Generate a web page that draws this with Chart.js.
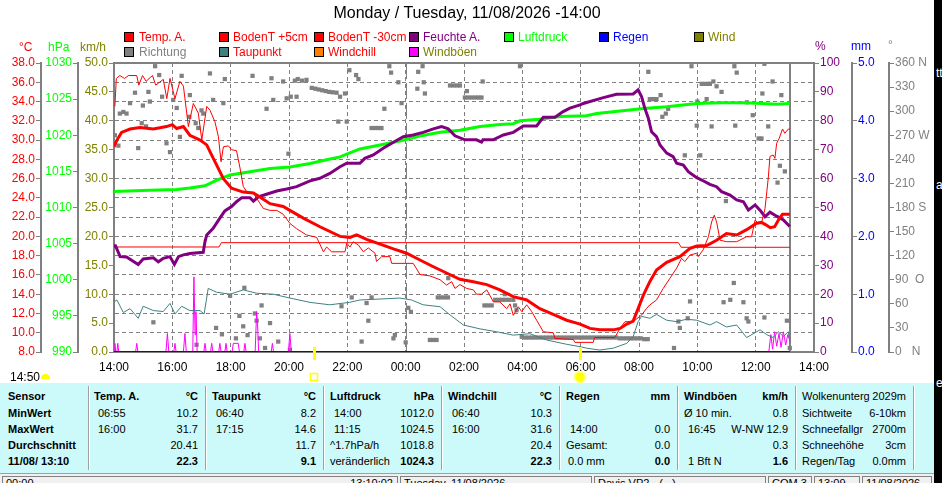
<!DOCTYPE html>
<html>
<head>
<meta charset="utf-8">
<title>Wetterverlauf</title>
<script src="https://cdn.jsdelivr.net/npm/chart.js@4.4.1/dist/chart.umd.min.js"></script>
<style>
  body { margin: 0; width: 942px; height: 483px; overflow: hidden; background: #fff; position: relative;
         font-family: "Liberation Sans", Arial, sans-serif; }
  .a { position: absolute; white-space: nowrap; line-height: 14px; font-size: 12px; }
  .sq { position: absolute; width: 8px; height: 8px; border: 1px solid #000; }
  #c { position: absolute; left: 0; top: 0; }
  #title { position: absolute; left: 0; top: 4px; width: 934px; text-align: center;
           font: 16px "Liberation Sans", Arial, sans-serif; line-height: 18px; }
  #tab { position: absolute; left: 0; top: 383px; width: 934px; height: 90px; background: #ccfafa;
         font: 11px "Liberation Sans", Arial, sans-serif; }
  #tab div { position: absolute; white-space: nowrap; line-height: 14px; }
  #tab .b { font-weight: bold; }
  #tab .sep { top: 3px; height: 84px; width: 0; border-left: 1px solid #a0a0a0; border-right: 1px solid #fff; }
  #status { position: absolute; left: 0; top: 473px; width: 934px; height: 10px; background: #f0f0f0;
            border-top: 1px solid #a0a0a0; font: 11px "Liberation Sans", Arial, sans-serif; }
  #status div { position: absolute; top: 2px; height: 12px; border: 1px solid #808080; border-bottom: none;
                white-space: nowrap; line-height: 12px; padding: 0 3px; box-sizing: border-box; }
  #strip { position: absolute; left: 934px; top: 0; width: 8px; height: 483px; background: #000; overflow: hidden; }
  #strip div { position: absolute; left: 2px; color: #fff; font: 12px "Liberation Sans", Arial, sans-serif; }
</style>
</head>
<body>
<canvas id="c" width="934" height="383"></canvas>

<div id="title">Monday / Tuesday, 11/08/2026 -14:00</div>

<div class="sq" style="left:124px;top:32px;background:#ff0000"></div><div class="a" style="left:139px;top:30px;color:#ff0000">Temp. A.</div>
<div class="sq" style="left:219px;top:32px;background:#ff0000"></div><div class="a" style="left:233px;top:30px;color:#ff0000">BodenT +5cm</div>
<div class="sq" style="left:314px;top:32px;background:#ff0000"></div><div class="a" style="left:328px;top:30px;color:#ff0000">BodenT -30cm</div>
<div class="sq" style="left:409px;top:32px;background:#800080"></div><div class="a" style="left:423px;top:30px;color:#800080">Feuchte A.</div>
<div class="sq" style="left:504px;top:32px;background:#00ff00"></div><div class="a" style="left:518px;top:30px;color:#00ff00">Luftdruck</div>
<div class="sq" style="left:599px;top:32px;background:#0000ff"></div><div class="a" style="left:613px;top:30px;color:#0000ff">Regen</div>
<div class="sq" style="left:694px;top:32px;background:#808000"></div><div class="a" style="left:708px;top:30px;color:#808000">Wind</div>
<div class="sq" style="left:124px;top:47px;background:#808080"></div><div class="a" style="left:139px;top:45px;color:#808080">Richtung</div>
<div class="sq" style="left:219px;top:47px;background:#408080"></div><div class="a" style="left:233px;top:45px;color:#ff0000">Taupunkt</div>
<div class="sq" style="left:314px;top:47px;background:#ff8000"></div><div class="a" style="left:328px;top:45px;color:#ff0000">Windchill</div>
<div class="sq" style="left:409px;top:47px;background:#ff00ff"></div><div class="a" style="left:423px;top:45px;color:#808000">Windböen</div>

<div class="a" style="left:19px;top:40px;color:#ff0000">°C</div>
<div class="a" style="left:48px;top:40px;color:#00ff00">hPa</div>
<div class="a" style="left:80px;top:40px;color:#808000">km/h</div>
<div class="a" style="left:815px;top:39px;color:#800080">%</div>
<div class="a" style="left:851px;top:39px;color:#0000ff">mm</div>
<div class="a" style="left:888px;top:38px;color:#808080">°</div>

<div class="a" style="left:10px;top:370px;color:#000">14:50</div>
<div style="position:absolute;left:41px;top:374px;width:9px;height:5px;background:#ffff00;border-radius:5px 5px 1px 1px"></div>

<div id="tab"></div>
<div id="status">
  <div style="left:2px;width:396px">00:00<span style="position:absolute;right:4px">13:10:02</span></div>
  <div style="left:400px;width:192px">Tuesday, 11/08/2026</div>
  <div style="left:594px;width:172px">Davis VP2 - (...)</div>
  <div style="left:768px;width:44px">COM 3</div>
  <div style="left:814px;width:46px">13:09</div>
  <div style="left:862px;width:70px">11/08/2026</div>
</div>
<div id="strip"><div style="top:66px">tt.</div><div style="top:178px">a</div><div style="top:376px">e</div></div>

<script>
// hours after 14:00 (0 = 14:00 Monday, 24 = 14:00 Tuesday)
const timeLabels = ['14:00', '16:00', '18:00', '20:00', '22:00', '00:00', '02:00', '04:00', '06:00', '08:00', '10:00', '12:00', '14:00'];
const dirLabels = ['0   N', '30', '60', '90  O', '120', '150', '180 S', '210', '240', '270 W', '300', '330', '360 N'];
const midnight = 10;
const nowHour = 23.17;
const sunset = 6.86;
const sunrise = 15.98;

const tempA = [[0, 29.3], [0.1, 30.0], [0.26, 30.8], [0.55, 31.15], [0.89, 31.3], [1.35, 31.15], [1.8, 31.4], [2.0, 31.6],
  [2.15, 31.2], [2.38, 31.4], [2.6, 30.5], [2.95, 30.0], [3.18, 29.5], [3.29, 28.8], [3.52, 27.4], [3.75, 26.0], [4.03, 25.0],
  [4.43, 24.6], [4.78, 24.5], [5.0, 24.1], [5.35, 23.4], [5.8, 23.1], [6.03, 22.7], [6.49, 21.9], [7.06, 21.0], [7.75, 20.0],
  [8.09, 19.9], [8.32, 20.15], [8.66, 19.7], [9.12, 19.2], [9.58, 18.7], [10.03, 18.25], [10.49, 17.55], [10.95, 16.85],
  [11.4, 16.2], [11.86, 15.55], [12.32, 15.3], [12.78, 15.0], [13.23, 14.45], [13.69, 13.75], [14.15, 13.4], [14.6, 12.5],
  [15.06, 11.9], [15.52, 11.3], [15.98, 10.9], [16.32, 10.45], [16.66, 10.3], [17.12, 10.3], [17.35, 10.45], [17.58, 10.9],
  [17.8, 11.2], [17.97, 12.5], [18.15, 13.9], [18.37, 15.3], [18.6, 16.5], [18.95, 17.3], [19.4, 17.9], [19.75, 18.75],
  [19.98, 19.0], [20.32, 19.05], [20.66, 19.6], [21.0, 20.3], [21.35, 20.15], [21.69, 20.7], [22.03, 21.36], [22.2, 21.45],
  [22.35, 21.2], [22.5, 20.9], [22.65, 21.0], [22.8, 21.8], [22.92, 22.3], [23.17, 22.3]];

const bodenT5 = [[0.03, 33.5], [0.08, 36.4], [0.2, 36.7], [0.36, 36.4], [0.5, 36.7], [0.78, 36.7], [0.85, 35.7], [0.98, 36.7],
  [1.1, 36.1], [1.32, 36.7], [1.43, 35.7], [1.69, 36.3], [1.81, 34.3], [1.92, 36.4], [2.09, 34.3], [2.26, 36.1], [2.38, 35.6],
  [2.55, 31.4], [2.72, 33.8], [2.89, 32.8], [3.01, 30.0], [3.18, 33.5], [3.29, 33.1], [3.46, 31.9], [3.58, 30.35], [3.67, 27.75],
  [3.75, 29.3], [3.92, 29.4], [4.03, 29.0], [4.2, 28.9], [4.32, 27.1], [4.43, 25.2], [4.55, 24.65], [4.78, 24.5], [4.89, 23.95],
  [5.12, 22.9], [5.35, 22.7], [5.58, 22.7], [5.8, 22.3], [6.03, 21.35], [6.26, 20.8], [6.6, 20.15], [6.95, 19.9], [7.18, 18.4],
  [7.29, 18.9], [7.46, 18.4], [7.92, 18.4], [7.98, 19.3], [8.09, 18.9], [8.2, 19.45], [8.38, 19.1], [8.55, 18.4], [8.72, 18.8],
  [8.95, 18.25], [9.0, 17.4], [9.18, 17.9], [9.46, 17.9], [9.52, 17.2], [10.26, 17.2], [10.49, 16.05], [10.83, 15.9],
  [11.18, 15.5], [11.4, 14.95], [11.58, 15.3], [11.69, 14.6], [11.86, 15.0], [12.09, 14.6], [12.32, 14.45], [12.43, 14.0],
  [12.6, 14.0], [12.78, 14.45], [13.01, 13.2], [13.23, 13.2], [13.46, 12.5], [13.58, 13.0], [13.69, 11.8], [13.86, 12.7],
  [13.98, 12.2], [14.15, 12.9], [14.32, 12.2], [14.49, 11.3], [14.72, 10.1], [15.06, 10.0], [15.12, 9.4], [15.75, 9.3],
  [15.8, 9.0], [16.43, 9.0], [16.48, 9.5], [17.17, 9.5], [17.35, 10.46], [17.52, 11.15], [17.8, 11.15], [18.09, 11.84],
  [18.26, 12.53], [18.37, 12.88], [18.6, 13.4], [18.83, 14.6], [19.06, 15.65], [19.29, 16.7], [19.46, 17.73], [19.57, 17.38],
  [19.75, 18.07], [19.98, 18.25], [20.03, 17.9], [20.2, 18.6], [20.38, 19.97], [20.49, 21.5], [20.58, 22.2], [20.66, 21.5],
  [20.78, 19.6], [21.0, 19.45], [21.35, 19.45], [21.69, 19.97], [21.86, 19.97], [21.98, 21.7], [22.09, 21.36], [22.2, 21.36],
  [22.32, 22.9], [22.37, 24.3], [22.43, 26.0], [22.49, 28.3], [22.6, 28.45], [22.66, 28.1], [22.72, 29.67], [22.81, 30.2],
  [22.92, 31.15], [23.0, 30.7], [23.12, 31.15], [23.17, 31.15]];

const bodenT30 = [[0, 18.9], [3.6, 18.9], [3.68, 19.35], [19.35, 19.35], [19.45, 18.87], [23.17, 18.87]];

const feuchte = [[0, 36.8], [0.05, 36.8], [0.21, 33.0], [0.43, 32.9], [0.83, 30.3], [1.0, 32.2], [1.35, 32.6], [1.52, 31.2],
  [1.69, 32.4], [1.92, 33.0], [2.07, 30.3], [2.21, 33.0], [2.38, 33.6], [2.6, 34.1], [3.06, 34.5], [3.12, 38.2], [3.18, 40.5],
  [3.4, 42.8], [3.63, 46.3], [3.8, 48.8], [4.03, 50.3], [4.2, 52.0], [4.38, 53.4], [4.66, 53.4], [4.78, 52.2], [4.95, 53.7],
  [5.23, 54.6], [5.58, 55.7], [5.92, 56.4], [6.26, 57.2], [6.72, 59.2], [7.06, 60.1], [7.4, 61.8], [7.75, 64.1], [7.98, 65.3],
  [8.43, 65.3], [8.6, 67.0], [8.89, 68.2], [9.23, 70.5], [9.58, 72.6], [9.92, 74.5], [10.26, 75.1], [10.6, 76.0], [10.95, 77.2],
  [11.23, 78.0], [11.46, 77.2], [11.69, 74.8], [12.03, 73.4], [12.43, 73.4], [12.6, 72.6], [12.65, 73.4], [13.0, 73.4],
  [13.35, 75.1], [13.69, 76.0], [14.03, 78.2], [14.49, 78.2], [14.72, 81.2], [15.12, 81.2], [15.4, 83.2], [15.63, 84.4],
  [15.98, 85.5], [16.09, 86.0], [16.78, 88.0], [17.23, 89.2], [17.8, 89.3], [17.97, 90.7], [18.09, 88.3], [18.2, 84.3],
  [18.32, 80.9], [18.43, 76.2], [18.6, 74.5], [18.72, 71.6], [18.95, 68.8], [19.17, 67.6], [19.29, 65.3], [19.52, 64.7],
  [19.69, 62.4], [19.98, 60.3], [20.15, 59.5], [20.43, 58.0], [20.66, 57.2], [20.83, 55.5], [21.12, 54.3], [21.35, 52.6],
  [21.58, 52.0], [21.75, 49.1], [21.98, 50.9], [22.15, 49.1], [22.32, 46.8], [22.49, 48.4], [22.72, 47.0], [22.95, 45.7],
  [23.17, 43.4]];

const luftdruck = [[0, 1012.2], [1.23, 1012.4], [2.15, 1012.5], [2.6, 1012.7], [3.12, 1013.0], [3.52, 1013.8], [3.98, 1014.5],
  [4.66, 1014.95], [5.35, 1015.4], [6.03, 1015.6], [6.72, 1016.1], [7.29, 1016.6], [7.75, 1017.0], [8.43, 1018.1],
  [9.12, 1018.65], [9.8, 1019.2], [10.49, 1019.9], [11.18, 1020.4], [11.86, 1020.7], [12.55, 1021.2], [13.23, 1021.5],
  [13.69, 1021.6], [13.92, 1022.0], [14.6, 1022.2], [15.29, 1022.6], [16.2, 1022.7], [16.55, 1023.0], [17.35, 1023.35],
  [18.15, 1023.7], [18.95, 1023.95], [19.98, 1024.4], [20.78, 1024.5], [21.58, 1024.5], [22.26, 1024.4], [22.72, 1024.3],
  [23.17, 1024.4]];

const taupunkt = [[0, 13.2], [0.1, 13.4], [0.32, 12.1], [0.55, 12.5], [0.83, 11.5], [1.0, 12.75], [1.35, 12.3], [1.69, 12.2],
  [1.92, 13.05], [2.09, 11.95], [2.32, 12.75], [2.6, 12.3], [2.95, 12.3], [3.09, 11.95], [3.23, 14.6], [3.52, 14.2],
  [3.98, 14.0], [4.43, 14.45], [4.89, 14.1], [5.46, 14.0], [6.03, 13.6], [6.72, 13.15], [7.4, 12.9], [8.07, 13.15],
  [8.43, 13.4], [9.12, 13.5], [9.8, 13.6], [10.2, 13.4], [10.6, 12.9], [11.18, 12.7], [11.52, 11.85], [11.98, 10.8],
  [12.55, 10.4], [13.12, 10.1], [13.69, 9.75], [14.26, 9.9], [14.83, 9.25], [15.52, 8.8], [15.98, 8.55], [16.2, 8.4],
  [16.66, 8.2], [17.12, 8.4], [17.58, 8.9], [17.8, 9.6], [17.97, 11.15], [18.09, 11.7], [18.37, 11.5], [18.6, 11.9],
  [18.95, 11.3], [19.29, 11.15], [19.63, 11.4], [19.98, 11.3], [20.43, 10.8], [20.66, 11.15], [21.0, 10.6], [21.35, 10.8],
  [21.69, 9.5], [22.15, 10.3], [22.38, 9.8], [22.6, 9.5], [22.78, 10.1], [22.95, 9.6], [23.12, 10.1], [23.17, 9.1]];

const windboeen = [[0, 0], [0.03, 1.5], [0.06, 0], [0.1, 0], [0.13, 1.5], [0.16, 0], [0.74, 0], [0.78, 1.5], [0.82, 0],
  [1.78, 0], [1.83, 3.2], [1.88, 0], [2.05, 0], [2.09, 1.5], [2.13, 0], [2.38, 0], [2.43, 3.2], [2.48, 0], [2.7, 0],
  [2.74, 13.0], [2.78, 3.0], [2.81, 7.0], [2.85, 0], [3.08, 0], [3.12, 1.5], [3.16, 0], [3.31, 0], [3.35, 1.5], [3.39, 0],
  [3.59, 0], [3.63, 1.5], [3.67, 0], [3.8, 0], [3.84, 1.5], [3.88, 0], [4.05, 0], [4.09, 1.5], [4.26, 1.5], [4.3, 0],
  [4.45, 0], [4.49, 1.5], [4.53, 0], [4.84, 0], [4.89, 7.0], [4.92, 5.0], [4.96, 0], [5.39, 0], [5.43, 1.5], [5.47, 0],
  [5.98, 0], [6.03, 3.2], [6.08, 0], [22.45, 0], [22.52, 3.0], [22.58, 0.5], [22.65, 3.5], [22.72, 1.0], [22.8, 3.2],
  [22.87, 0.8], [22.95, 3.5], [23.03, 1.2], [23.1, 3.0], [23.17, 2.0]];

const regen = [[0, 0], [23.17, 0]];

const richtung = [[0.03, 270], [0.15, 257], [0.2, 297], [0.32, 299], [0.43, 297], [0.55, 310], [0.72, 323], [0.83, 254],
  [0.95, 285], [0.99, 307], [1.1, 281], [1.18, 324], [1.23, 312], [1.35, 37], [1.41, 356], [1.55, 345], [1.65, 318],
  [1.8, 260], [1.92, 249], [2.03, 314], [2.15, 304], [2.26, 268], [2.32, 344], [2.58, 293], [2.6, 320], [2.8, 285],
  [2.83, 9], [2.89, 279], [3.0, 301], [3.06, 297], [3.29, 347], [3.4, 314], [3.5, 30], [3.7, 22], [3.75, 310], [3.8, 340],
  [3.98, 70], [4.18, 17], [4.3, 45], [4.43, 32], [4.47, 80], [4.58, 21], [4.75, 344], [4.83, 48], [4.89, 39], [5.0, 17],
  [5.06, 58], [5.18, 5], [5.23, 303], [5.35, 36], [5.4, 341], [5.46, 314], [5.63, 13], [5.8, 337], [5.92, 316], [5.98, 247],
  [6.03, 3], [6.06, 318], [6.2, 338], [6.26, 318], [6.3, 340], [6.45, 338], [6.6, 339],
  [6.78, 329], [6.9, 328], [7.02, 327], [7.14, 326], [7.26, 325], [7.38, 324], [7.5, 323.5], [7.63, 323],
  [7.69, 287], [7.75, 318], [7.8, 57], [7.92, 322], [7.98, 287], [8.07, 351], [8.15, 68], [8.3, 345], [8.38, 340],
  [8.49, 13], [8.66, 61], [8.72, 39], [8.83, 68], [8.83, 279], [8.95, 279], [9.07, 279], [9.17, 279], [9.27, 303],
  [9.44, 356], [9.5, 348], [9.58, 17], [9.63, 21], [9.75, 336], [9.86, 310], [10.0, 12], [10.09, 55], [10.18, 50],
  [10.4, 328], [10.43, 349], [10.58, 356], [10.62, 336], [10.66, 322], [10.83, 15], [10.95, 15], [11.06, 15],
  [11.1, 68], [11.22, 68], [11.34, 68], [11.45, 68], [11.46, 92], [11.52, 332], [11.64, 332], [11.76, 332], [11.86, 332],
  [12.03, 317], [12.1, 325], [12.15, 317], [12.27, 317], [12.39, 317], [12.5, 317], [12.6, 317], [12.64, 337],
  [12.7, 58], [12.82, 58], [12.95, 58], [13.07, 65], [13.19, 65], [13.31, 65], [13.4, 72], [13.43, 65], [13.55, 65],
  [13.69, 65], [13.75, 58], [13.8, 52], [13.92, 356],
  [13.98, 19], [14.1, 18], [14.22, 18], [14.34, 18], [14.46, 18], [14.58, 18], [14.7, 18], [14.82, 18], [14.94, 18],
  [15.06, 18], [15.18, 18], [15.3, 18], [15.42, 18], [15.54, 18], [15.66, 18], [15.78, 18], [15.9, 18], [16.02, 18],
  [16.14, 18], [16.26, 18], [16.38, 18], [16.5, 18], [16.62, 18], [16.74, 18], [16.86, 18], [16.98, 18], [17.1, 18],
  [17.22, 18], [17.34, 17], [17.46, 17], [17.58, 17], [17.7, 17], [17.82, 17], [17.94, 17], [18.06, 17], [18.18, 16],
  [18.3, 16], [18.32, 349], [18.37, 315], [18.49, 315], [18.6, 315], [18.74, 320], [18.8, 293], [18.92, 297], [19.0, 303],
  [19.2, 5], [19.35, 38], [19.4, 30], [19.57, 245], [19.67, 42], [19.75, 63], [19.8, 356], [19.98, 282], [20.0, 312],
  [20.1, 245], [20.15, 334], [20.27, 334], [20.32, 315], [20.39, 334], [20.43, 334], [20.49, 281], [20.55, 337],
  [20.66, 331], [20.83, 324], [20.9, 62], [20.98, 188], [21.13, 65], [21.25, 86], [21.27, 356], [21.3, 282], [21.35, 348],
  [21.58, 62], [21.69, 42], [21.7, 311], [21.75, 38], [21.9, 295], [22.1, 266], [22.2, 266], [22.23, 322], [22.3, 43],
  [22.3, 359], [22.43, 281], [22.58, 337], [22.75, 211], [22.83, 232], [22.88, 320], [23.0, 225], [23.07, 39], [23.17, 5]];

Chart.defaults.font.family = '"Liberation Sans", Arial, sans-serif';
Chart.defaults.font.size = 12;
const gray = '#808080';

function yAxis(position, weight, width, min, max, step, color, fmt) {
    return {
        position: position,
        weight: weight,
        min: min,
        max: max,
        afterFit: (s) => { s.width = width; },
        ticks: { stepSize: step, color: color, padding: 1, autoSkip: false, callback: fmt },
        grid: { drawOnChartArea: false, tickLength: 5, tickColor: gray, tickWidth: 1 },
        border: { color: gray, width: 2 },
    };
}

const scales = {
    x: {
        type: 'linear',
        min: 0,
        max: 24,
        afterFit: (s) => { s.height = 22; },
        ticks: { stepSize: 2, color: '#000', padding: 8, autoSkip: false, maxRotation: 0, callback: (v, i) => timeLabels[i] },
        grid: { color: gray, lineWidth: 1, drawTicks: false },
        border: { color: gray, width: 2, dash: [4, 3] },
    },
    yT: yAxis('left', 3, 41, 8, 38, 2, '#ff0000', (v) => v.toFixed(1)),
    yP: yAxis('left', 2, 37, 990, 1030, 5, '#00ff00', (v) => v),
    yW: yAxis('left', 1, 36, 0, 50, 5, '#808000', (v) => v.toFixed(1)),
    yH: yAxis('right', 1, 38, 0, 100, 10, '#800080', (v) => v),
    yR: yAxis('right', 2, 37, 0, 5, 1, '#0000ff', (v) => v.toFixed(1)),
    yD: yAxis('right', 3, 45, 0, 360, 30, gray, (v, i) => dirLabels[i]),
};
// temperature axis carries the horizontal dashed grid
scales.yT.grid.drawOnChartArea = true;
scales.yT.grid.color = gray;
scales.yT.border.dash = [4, 3];

const extras = {
    id: 'extras',
    beforeDatasetsDraw(chart) {
        const { ctx, chartArea: a, scales: { x } } = chart;
        ctx.save();
        ctx.strokeStyle = gray;
        ctx.lineWidth = 1;
        ctx.setLineDash([16, 4]);
        let px = Math.round(x.getPixelForValue(midnight)) + 0.5;
        ctx.beginPath(); ctx.moveTo(px, a.top); ctx.lineTo(px, a.bottom); ctx.stroke();
        ctx.setLineDash([]);
        ctx.lineWidth = 2;
        px = Math.round(x.getPixelForValue(nowHour));
        ctx.beginPath(); ctx.moveTo(px, a.top); ctx.lineTo(px, a.bottom); ctx.stroke();
        ctx.beginPath(); ctx.moveTo(a.left - 1, a.top); ctx.lineTo(a.right + 1, a.top); ctx.stroke();
        ctx.restore();
    },
    afterDraw(chart) {
        const { ctx, chartArea: a, scales: { x } } = chart;
        ctx.save();
        ctx.fillStyle = '#ffff00';
        ctx.strokeStyle = '#ffff00';
        for (const h of [sunset, sunrise]) {
            const px = Math.round(x.getPixelForValue(h));
            ctx.fillRect(px - 1, a.bottom - 5, 3, 13);
        }
        // sunset marker
        let px = Math.round(x.getPixelForValue(sunset));
        ctx.lineWidth = 1.5;
        ctx.strokeRect(px - 3.5, 373.5, 7, 7);
        // sunrise marker
        px = Math.round(x.getPixelForValue(sunrise));
        ctx.fillStyle = 'rgba(255,255,0,0.45)';
        ctx.beginPath(); ctx.arc(px, 377, 6.5, 0, Math.PI * 2); ctx.fill();
        ctx.fillStyle = '#ffff00';
        ctx.beginPath(); ctx.arc(px, 377, 4.5, 0, Math.PI * 2); ctx.fill();
        ctx.restore();
    },
};

new Chart(document.getElementById('c'), {
    type: 'line',
    data: {
        datasets: [
            { label: 'Temp. A.', data: tempA, yAxisID: 'yT', borderColor: '#ff0000', borderWidth: 3, order: 0 },
            { label: 'BodenT +5cm', data: bodenT5, yAxisID: 'yT', borderColor: '#ff0000', borderWidth: 1, order: 1 },
            { label: 'Feuchte A.', data: feuchte, yAxisID: 'yH', borderColor: '#800080', borderWidth: 3, order: 2 },
            { label: 'Luftdruck', data: luftdruck, yAxisID: 'yP', borderColor: '#00ff00', borderWidth: 3, order: 3 },
            { label: 'BodenT -30cm', data: bodenT30, yAxisID: 'yT', borderColor: '#ff0000', borderWidth: 1, order: 4 },
            { label: 'Taupunkt', data: taupunkt, yAxisID: 'yT', borderColor: '#408080', borderWidth: 1, order: 5 },
            { label: 'Regen', data: regen, yAxisID: 'yR', borderColor: '#0000ff', borderWidth: 2, order: 6 },
            { label: 'Windböen', data: windboeen, yAxisID: 'yW', borderColor: '#ff00ff', borderWidth: 1, order: 7 },
            { label: 'Richtung', data: richtung, yAxisID: 'yD', showLine: false, pointStyle: 'rect', pointRadius: 3,
              pointBorderWidth: 0, pointBackgroundColor: gray, borderColor: gray, order: 8 },
        ],
    },
    options: {
        responsive: false,
        animation: false,
        layout: { padding: { top: 63, bottom: 9, left: 0, right: 0 } },
        plugins: {
            legend: { display: false },
            tooltip: { enabled: false },
        },
        elements: {
            line: { tension: 0, fill: false },
            point: { radius: 0 },
        },
        scales: scales,
    },
    plugins: [extras],
});

// summary table
const tab = document.getElementById('tab');
const rowTop = [6, 23, 39, 55, 71];
function cell(x, row, text, right, bold) {
    const d = document.createElement('div');
    d.textContent = text;
    d.style.top = rowTop[row] + 'px';
    if (right) {
        d.style.left = (x - 120) + 'px';
        d.style.width = '120px';
        d.style.textAlign = 'right';
    } else {
        d.style.left = x + 'px';
    }
    if (bold) d.className = 'b';
    tab.appendChild(d);
}
for (const sx of [88, 205, 323, 441, 559, 677, 795, 913]) {
    const s = document.createElement('div');
    s.className = 'sep';
    s.style.left = sx + 'px';
    tab.appendChild(s);
}
['Sensor', 'MinWert', 'MaxWert', 'Durchschnitt', '11/08/ 13:10'].forEach((t, i) => cell(8, i, t, false, true));
const cols = [
    { lx: 94, tx: 98, rx: 198, head: 'Temp. A.', unit: '°C', rows: [['06:55', '10.2'], ['16:00', '31.7'], ['', '20.41'], ['', '22.3']] },
    { lx: 212, tx: 216, rx: 316, head: 'Taupunkt', unit: '°C', rows: [['06:40', '8.2'], ['17:15', '14.6'], ['', '11.7'], ['', '9.1']] },
    { lx: 330, tx: 334, rx: 434, head: 'Luftdruck', unit: 'hPa', rows: [['14:00', '1012.0'], ['11:15', '1024.5'], ['^1.7hPa/h', '1018.8', 1], ['veränderlich', '1024.3', 1]] },
    { lx: 448, tx: 452, rx: 552, head: 'Windchill', unit: '°C', rows: [['06:40', '10.3'], ['16:00', '31.6'], ['', '20.4'], ['', '22.3']] },
    { lx: 566, tx: 570, rx: 670, head: 'Regen', unit: 'mm', rows: [['', ''], ['14:00', '0.0'], ['Gesamt:', '0.0', 1], ['0.0 mm', '0.0', 2]] },
    { lx: 684, tx: 688, rx: 788, head: 'Windböen', unit: 'km/h', rows: [['Ø 10 min.', '0.8', 1], ['16:45', 'W-NW 12.9'], ['', '0.3'], ['1 Bft N', '1.6']] },
];
for (const c of cols) {
    cell(c.lx, 0, c.head, false, true);
    cell(c.rx, 0, c.unit, true, true);
    c.rows.forEach((r, i) => {
        const x = r[2] === 1 ? c.lx : (r[2] === 2 ? c.lx + 2 : c.tx);
        if (r[0]) cell(x, i + 1, r[0], false, false);
        if (r[1]) cell(c.rx, i + 1, r[1], true, i === 3);
    });
}
[['Wolkenunterg', '2029m'], ['Sichtweite', '6-10km'], ['Schneefallgr', '2700m'], ['Schneehöhe', '3cm'], ['Regen/Tag', '0.0mm']]
    .forEach((r, i) => { cell(802, i, r[0], false, false); cell(906, i, r[1], true, false); });
</script>
</body>
</html>
